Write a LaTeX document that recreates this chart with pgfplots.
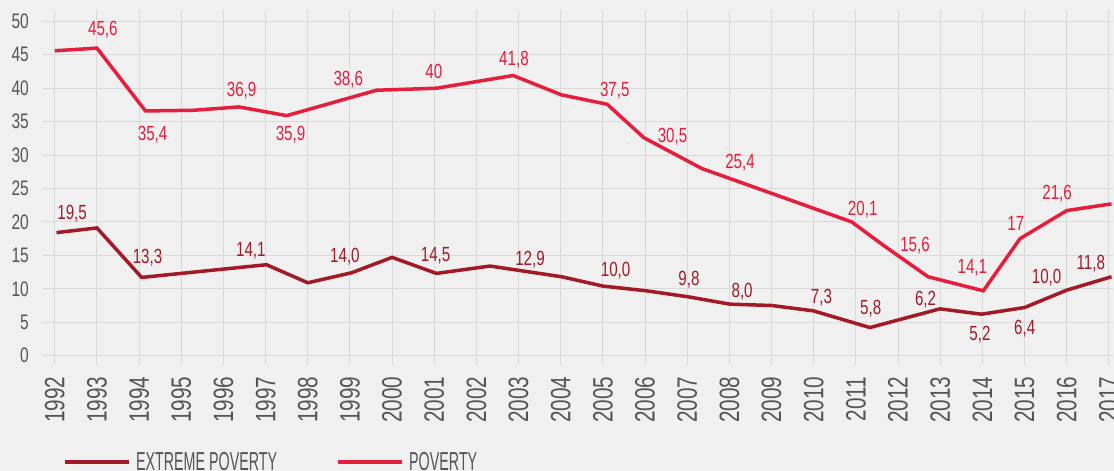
\documentclass[border=0pt]{standalone}
\usepackage{fontspec}
\setmainfont{Liberation Sans}[FakeStretch=0.74]
\newfontfamily\legfont{Liberation Sans}[FakeStretch=0.55]
\usepackage{pgfplots}
\pgfplotsset{compat=1.18}
\definecolor{pov}{HTML}{E41E3C}
\definecolor{ext}{HTML}{A11A26}
\definecolor{txt}{HTML}{555555}
\definecolor{bg}{HTML}{F0F0F0}
\definecolor{grd}{HTML}{D9D9D9}
\begin{document}
\begin{tikzpicture}
\useasboundingbox (0,0) rectangle (1114bp,471bp);
\clip (0,0) rectangle (1114bp,471bp);
\fill[bg] (0,0) rectangle (1114bp,471bp);
\begin{axis}[
  at={(43bp,106bp)}, anchor=south west,
  scale only axis, width=1070.2bp, height=355bp,
  xmin=1991.72, xmax=2017.1, ymin=-1.4, ymax=51.7,
  xtick={1992,...,2017}, ytick={0,5,...,50},
  grid=major, major grid style={color=grd, line width=1bp},
  axis line style={draw=none}, tick style={draw=none},
  /pgf/number format/assume math mode=true,
  /pgf/number format/set thousands separator={},
  xticklabel style={rotate=90, anchor=east, inner sep=0pt, text=txt, font=\fontsize{28bp}{28bp}\selectfont},
  yticklabel style={anchor=east, inner sep=0pt, text=txt, font=\fontsize{21bp}{21bp}\selectfont},
  xticklabel shift=11.7bp, yticklabel shift=14bp,
  clip=false,
  legend style={draw=none, fill=none, at={(axis description cs:0.0187,-0.273)}, anchor=west,
    inner sep=0pt, outer sep=0pt, text=txt, font=\legfont\fontsize{26bp}{26bp}\selectfont,
    nodes={inner sep=1bp}},
  legend columns=2,
  legend cell align=left,
  /tikz/every odd column/.append style={column sep=4.5bp},
  /tikz/every even column/.append style={column sep=58bp},
  legend image code/.code={\draw[#1] (0bp,0bp) -- (64bp,0bp);},
  nodes near coords style={anchor=center, inner sep=0pt, font=\fontsize{20.5bp}{20.5bp}\selectfont},
]
\addplot[ext, line width=3.5bp] table {
x y
1992.04 18.4
1993.0 19.1
1994.06 11.7
1997.02 13.6
1998.0 10.9
1999.04 12.4
2000.0 14.7
2001.05 12.3
2002.32 13.4
2004.02 11.8
2005.0 10.4
2006.03 9.7
2007.02 8.8
2008.01 7.7
2009.0 7.5
2009.99 6.7
2011.33 4.2
2012.99 7.0
2013.98 6.2
2015.0 7.2
2016.0 9.8
2017.06 11.8
};
\addlegendentry{EXTREME POVERTY}
\addplot[pov, line width=3.5bp] table {
x y
1992 45.6
1993 46.0
1994.15 36.6
1995.28 36.7
1996.37 37.2
1997.5 35.9
1999.63 39.7
2001.05 40.0
2002.87 41.9
2004.02 39.0
2005.1 37.6
2005.97 32.6
2007.34 28.0
2010.9 20.0
2011.65 16.5
2012.71 11.8
2014.02 9.7
2014.89 17.5
2016.0 21.7
2017.06 22.7
};
\addlegendentry{POVERTY}
\addplot[draw=none, forget plot, nodes near coords, point meta=explicit symbolic,
  every node near coord/.append style={text=pov}] table[meta=l] {
x y l
1993.14 48.7 45,6
1994.32 33.0 35,4
1996.43 39.6 36,9
1997.59 33.0 35,9
1998.96 41.3 38,6
2000.99 42.5 40
2002.89 44.2 41,8
2005.28 39.6 37,5
2006.65 32.8 30,5
2008.25 28.8 25,4
2011.16 21.8 20,1
2012.40 16.4 15,6
2013.76 13.1 14,1
2014.79 19.8 17
2015.77 24.3 21,6
};
\addplot[draw=none, forget plot, nodes near coords, point meta=explicit symbolic,
  every node near coord/.append style={text=ext}] table[meta=l] {
x y l
1992.41 21.3 19,5
1994.20 14.6 13,3
1996.65 15.7 14,1
1998.88 14.8 14,0
2001.03 14.9 14,5
2003.27 14.3 12,9
2005.30 12.7 10,0
2007.04 11.4 9,8
2008.30 9.6 8,0
2010.18 8.6 7,3
2011.35 7.1 5,8
2012.65 8.4 6,2
2013.94 3.1 5,2
2015.00 4.0 6,4
2015.52 11.7 10,0
2016.57 13.8 11,8
};
\end{axis}
\end{tikzpicture}
\end{document}
